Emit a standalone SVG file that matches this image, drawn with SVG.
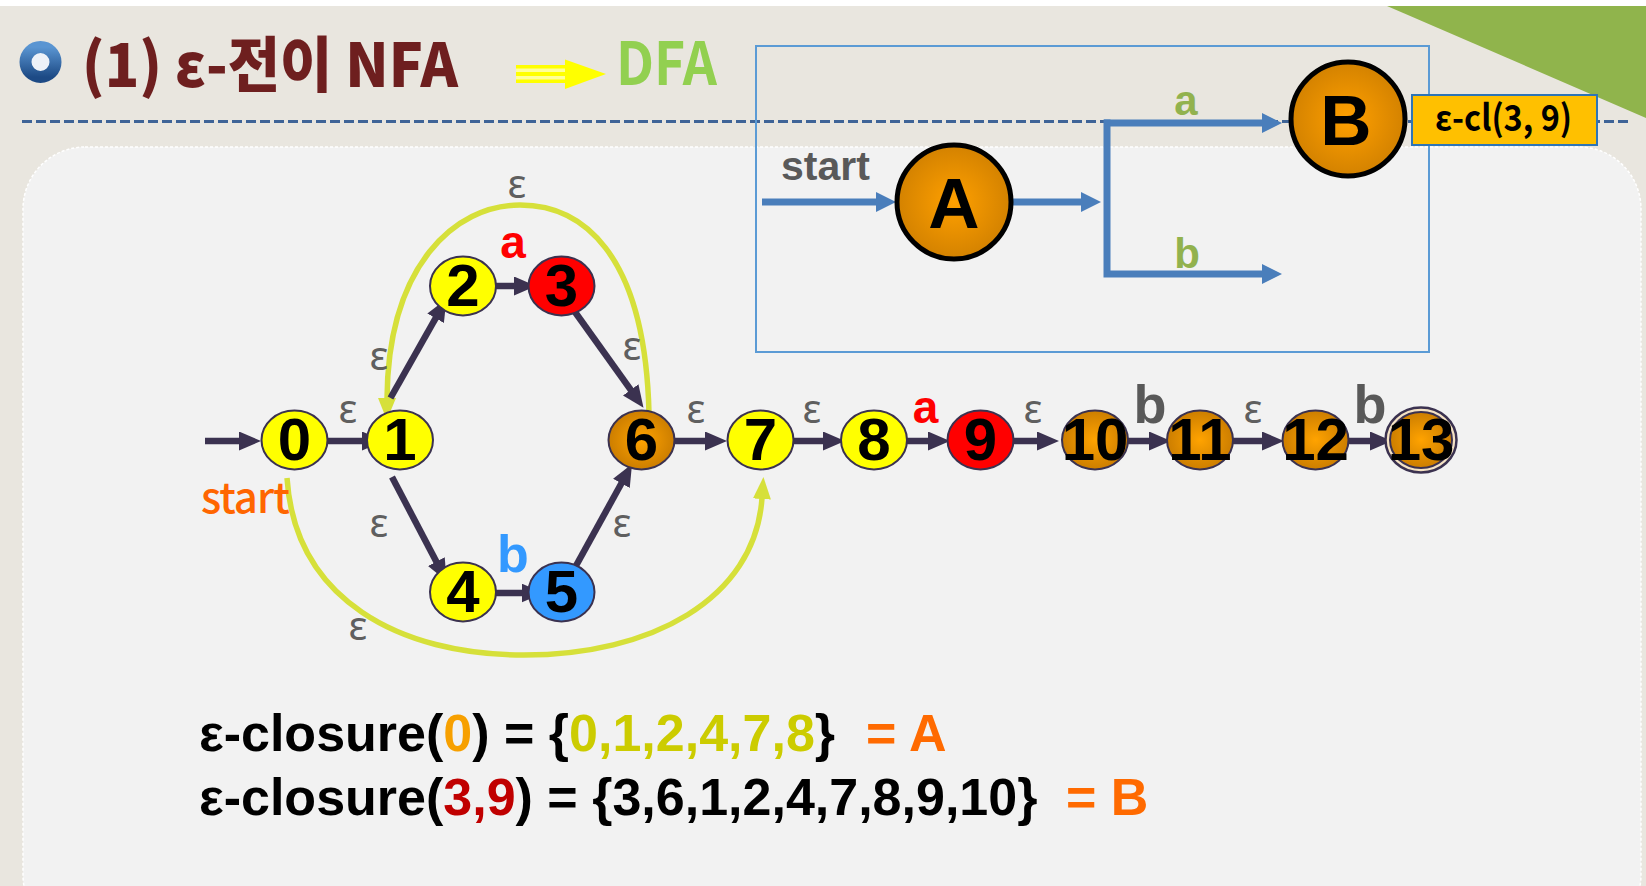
<svg xmlns="http://www.w3.org/2000/svg" width="1646" height="886" viewBox="0 0 1646 886">
<style>
.nfa{stroke:#3b3250;stroke-width:2}
.yel{fill:#ffff00}
.red{fill:#ff0000}
.blu{fill:#3399ff}
.org{fill:url(#og)}
.num{font-family:"Liberation Sans",Arial,sans-serif;font-weight:bold;font-size:60px;fill:#000;text-anchor:middle}
.eps{font-family:"Noto Sans","DejaVu Sans",sans-serif;font-size:40px;fill:#5f5f5f;text-anchor:middle}
.lab{font-family:"Liberation Sans",Arial,sans-serif;font-weight:bold;text-anchor:middle}
.arr{stroke:#3b3250;stroke-width:6.5;fill:none;marker-end:url(#ah)}
.crv{stroke:#d6e03a;stroke-width:5.5;fill:none;marker-end:url(#ahy)}
.barr{stroke:#4a7ebb;stroke-width:7;fill:none;marker-end:url(#ahb)}
.eq{font-family:"Liberation Sans",Arial,sans-serif;font-weight:bold;font-size:52px}
.blk{fill:#000}
.oeq{fill:#ff6a00}
.dfa{stroke:#000;stroke-width:5;fill:url(#dg)}
.big{font-family:"Liberation Sans",Arial,sans-serif;font-weight:bold;font-size:71px;fill:#000;text-anchor:middle}
</style>
<defs>
<radialGradient id="og" cx="50%" cy="50%" r="55%">
<stop offset="0" stop-color="#ffa300"/>
<stop offset="1" stop-color="#c77a00"/>
</radialGradient>
<radialGradient id="dg" cx="50%" cy="50%" r="55%">
<stop offset="0" stop-color="#ffa000"/>
<stop offset="1" stop-color="#cf7f00"/>
</radialGradient>
<linearGradient id="bul" x1="0" y1="0" x2="0" y2="1">
<stop offset="0" stop-color="#5a95d2"/>
<stop offset="1" stop-color="#1d4a85"/>
</linearGradient>
<marker id="ah" markerUnits="userSpaceOnUse" markerWidth="22" markerHeight="19" refX="1" refY="9.5" orient="auto">
<path d="M0,0 L22,9.5 L0,19 z" fill="#3b3250"/>
</marker>
<marker id="ahy" markerUnits="userSpaceOnUse" markerWidth="22" markerHeight="18" refX="1" refY="9" orient="auto">
<path d="M0,0 L22,9 L0,18 z" fill="#d6e03a"/>
</marker>
<marker id="ahb" markerUnits="userSpaceOnUse" markerWidth="20" markerHeight="20" refX="1" refY="10" orient="auto">
<path d="M0,0 L20,10 L0,20 z" fill="#4a7ebb"/>
</marker>
</defs>

<g id="background">
<rect x="0" y="0" width="1646" height="886" fill="#e9e6df"/>
<rect x="0" y="0" width="1646" height="6" fill="#ffffff"/>
<polygon points="1387,6 1646,6 1646,118" fill="#90b44c"/>
<rect x="23" y="147" width="1618" height="790" rx="62" fill="#f2f2f2" stroke="#ffffff" stroke-width="1.5" stroke-dasharray="3 2"/>
</g>

<g id="title">
<circle cx="40.5" cy="62" r="15" fill="#eef2f8" stroke="url(#bul)" stroke-width="12"/>
<text x="82" y="87" font-family="'Noto Sans CJK KR','Noto Sans',sans-serif" font-weight="900" font-size="60" fill="#6e1f1f" textLength="376" lengthAdjust="spacingAndGlyphs">(1) ε-전이 NFA</text>
<rect x="516" y="65" width="52" height="18" fill="#ffff99"/>
<rect x="516" y="65" width="52" height="3.5" fill="#ffff00"/>
<rect x="516" y="72" width="52" height="4" fill="#ffff00"/>
<rect x="516" y="79.5" width="52" height="3.5" fill="#ffff00"/>
<polygon points="565,59.5 606,74 565,89" fill="#ffff00"/>
<text x="616" y="85" font-family="'Noto Sans CJK KR','Noto Sans',sans-serif" font-weight="bold" font-size="60" fill="#92d050" textLength="101" lengthAdjust="spacingAndGlyphs">DFA</text>
<line x1="22" y1="121.5" x2="1628" y2="121.5" stroke="#3f6497" stroke-width="3.2" stroke-dasharray="10 4"/>
</g>

<g id="connectors">
<path class="crv" d="M 649 413 C 645 250, 580 205, 520 205 C 455 205, 388 265, 387 399"/>
<path class="crv" d="M 287 478 C 295 600, 400 655, 524 655 C 650 655, 755 600, 762 498"/>
<line class="arr" x1="205" y1="441" x2="240" y2="441"/>
<line class="arr" x1="326" y1="441" x2="363" y2="441"/>
<line class="arr" x1="390.5" y1="398" x2="436.1" y2="317.4"/>
<line class="arr" x1="484" y1="286" x2="515" y2="286"/>
<line class="arr" x1="570" y1="305" x2="631.3" y2="390.7"/>
<line class="arr" x1="392" y1="477" x2="436.8" y2="562.5"/>
<line class="arr" x1="486" y1="593" x2="522.5" y2="593"/>
<line class="arr" x1="572" y1="573" x2="621.9" y2="482.5"/>
<line class="arr" x1="672" y1="441" x2="706" y2="441"/>
<line class="arr" x1="793" y1="441" x2="824" y2="441"/>
<line class="arr" x1="906" y1="441" x2="929" y2="441"/>
<line class="arr" x1="1013" y1="441" x2="1038" y2="441"/>
<line class="arr" x1="1128" y1="441" x2="1150" y2="441"/>
<line class="arr" x1="1233" y1="441" x2="1263" y2="441"/>
<line class="arr" x1="1349" y1="441" x2="1371" y2="441"/>
<line class="barr" x1="762" y1="202" x2="877" y2="202"/>
<line class="barr" x1="1012" y1="202" x2="1082" y2="202"/>
<path class="barr" d="M 1104 123 L 1263 123"/>
<path class="barr" d="M 1107 119.5 L 1107 274 L 1263 274"/>
</g>

<g id="dfa-box">
<rect x="756" y="46" width="673" height="306" fill="none" stroke="#5b9bd5" stroke-width="2"/>
<text x="781" y="180" font-family="'Liberation Sans',Arial,sans-serif" font-weight="bold" font-size="41" fill="#595959">start</text>
<text class="lab" x="1186" y="115" font-size="42" fill="#92b24e">a</text>
<text class="lab" x="1187" y="268" font-size="42" fill="#92b24e">b</text>
</g>
<g id="node-A">
<circle class="dfa" cx="954" cy="202" r="57"/>
<text class="big" x="954" y="228">A</text>
</g>
<g id="node-B">
<circle class="dfa" cx="1348" cy="119" r="57"/>
<text class="big" x="1346" y="145">B</text>
</g>
<g id="note-B">
<rect x="1412" y="95" width="185" height="50" fill="#ffc000" stroke="#2e75b6" stroke-width="2"/>
<text x="1435" y="131" font-family="'Noto Sans CJK KR','Noto Sans',sans-serif" font-weight="bold" font-size="36" fill="#000" textLength="137" lengthAdjust="spacingAndGlyphs">ε-cl(3, 9)</text>
</g>

<g id="node-0"><ellipse class="nfa yel" cx="294.5" cy="440" rx="33" ry="29.5"/><text class="num" x="294.5" y="460">0</text></g>
<g id="node-1"><ellipse class="nfa yel" cx="400" cy="440" rx="33" ry="29.5"/><text class="num" x="400" y="460">1</text></g>
<g id="node-2"><ellipse class="nfa yel" cx="463" cy="286" rx="33" ry="29.5"/><text class="num" x="463" y="306">2</text></g>
<g id="node-3"><ellipse class="nfa red" cx="561.5" cy="286" rx="33" ry="29.5"/><text class="num" x="561.5" y="306">3</text></g>
<g id="node-4"><ellipse class="nfa yel" cx="463" cy="592" rx="33" ry="29.5"/><text class="num" x="463" y="612">4</text></g>
<g id="node-5"><ellipse class="nfa blu" cx="561.5" cy="592" rx="33" ry="29.5"/><text class="num" x="561.5" y="612">5</text></g>
<g id="node-6"><ellipse class="nfa org" cx="641.5" cy="440" rx="33" ry="29.5"/><text class="num" x="641.5" y="460">6</text></g>
<g id="node-7"><ellipse class="nfa yel" cx="760.5" cy="440" rx="33" ry="29.5"/><text class="num" x="760.5" y="460">7</text></g>
<g id="node-8"><ellipse class="nfa yel" cx="874" cy="440" rx="33" ry="29.5"/><text class="num" x="874" y="460">8</text></g>
<g id="node-9"><ellipse class="nfa red" cx="980.5" cy="440" rx="33" ry="29.5"/><text class="num" x="980.5" y="460">9</text></g>
<g id="node-10"><ellipse class="nfa org" cx="1095" cy="440" rx="33" ry="29.5"/><text class="num" x="1095" y="460">10</text></g>
<g id="node-11"><ellipse class="nfa org" cx="1200" cy="440" rx="33" ry="29.5"/><text class="num" x="1200" y="460">11</text></g>
<g id="node-12"><ellipse class="nfa org" cx="1315.5" cy="440" rx="33" ry="29.5"/><text class="num" x="1315.5" y="460">12</text></g>
<g id="node-13"><ellipse cx="1421" cy="440" rx="35.5" ry="32.5" fill="#f4e2c4" stroke="#3b3250" stroke-width="2.5"/><ellipse class="nfa org" cx="1421" cy="440" rx="31" ry="28" stroke-width="1.5"/><text class="num" x="1421" y="460">13</text></g>

<g id="nfa-labels">
<text class="eps" x="517" y="198">ε</text>
<text class="eps" x="379" y="370">ε</text>
<text class="eps" x="632" y="360">ε</text>
<text class="eps" x="348" y="423">ε</text>
<text class="eps" x="379" y="537">ε</text>
<text class="eps" x="622" y="537">ε</text>
<text class="eps" x="358" y="640">ε</text>
<text class="eps" x="696" y="423">ε</text>
<text class="eps" x="812" y="423">ε</text>
<text class="eps" x="1033" y="423">ε</text>
<text class="eps" x="1253" y="423">ε</text>
<text class="lab" x="513" y="258" font-size="46" fill="#ff0000">a</text>
<text class="lab" x="925.5" y="423" font-size="46" fill="#ff0000">a</text>
<text class="lab" x="513" y="572" font-size="52" fill="#3399ff">b</text>
<text class="lab" x="1150" y="423" font-size="54" fill="#595959">b</text>
<text class="lab" x="1370" y="423" font-size="54" fill="#595959">b</text>
<text x="201" y="513" font-family="'Noto Sans CJK KR','Noto Sans',sans-serif" font-weight="500" font-size="42" fill="#ff6600" letter-spacing="-1">start</text>
</g>

<g id="equations">
<text class="eq blk" x="199" y="751">ε-closure(<tspan fill="#f7a000">0</tspan>) = {<tspan fill="#cccc00">0,1,2,4,7,8</tspan>}</text>
<text class="eq oeq" x="866" y="751">= A</text>
<text class="eq blk" x="199" y="815">ε-closure(<tspan fill="#c00000">3,9</tspan>) = {3,6,1,2,4,7,8,9,10}</text>
<text class="eq oeq" x="1066" y="815">= B</text>
</g>
</svg>
